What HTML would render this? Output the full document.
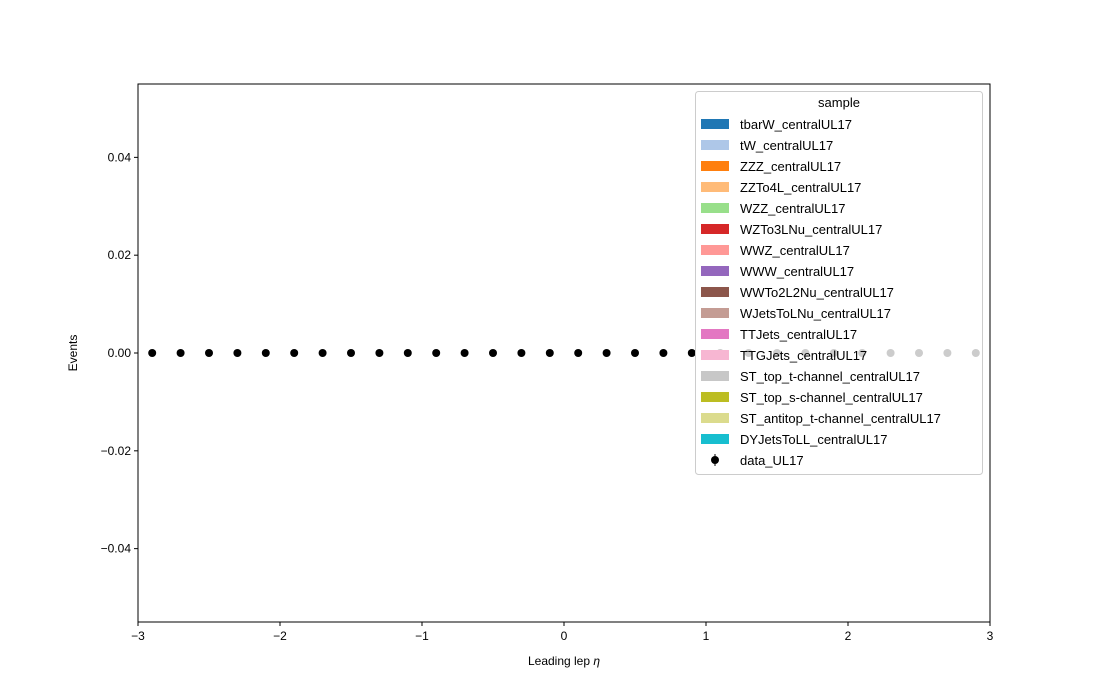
<!DOCTYPE html>
<html><head><meta charset="utf-8"><style>body{margin:0;background:#fff}svg{display:block;font-family:"Liberation Sans","DejaVu Sans",sans-serif}</style></head>
<body>
<svg id="chart" width="1100" height="700" xmlns="http://www.w3.org/2000/svg">
<g id="axes"></g>
<g id="points"></g>
<g id="legend"></g>
</svg>
<script>
const xCenters = [-2.9,-2.7,-2.5,-2.3,-2.1,-1.9,-1.7,-1.5,-1.3,-1.1,-0.9,-0.7,-0.5,-0.3,-0.1,0.1,0.3,0.5,0.7,0.9,1.1,1.3,1.5,1.7,1.9,2.1,2.3,2.5,2.7,2.9];
const dataValues = [0,0,0,0,0,0,0,0,0,0,0,0,0,0,0,0,0,0,0,0,0,0,0,0,0,0,0,0,0,0];
const xTicks = [-3,-2,-1,0,1,2,3];
const xTickLabels = ["\u22123","\u22122","\u22121","0","1","2","3"];
const yTicks = [-0.04,-0.02,0,0.02,0.04];
const yTickLabels = ["\u22120.04","\u22120.02","0.00","0.02","0.04"];
const sampleNames = ["tbarW_centralUL17","tW_centralUL17","ZZZ_centralUL17","ZZTo4L_centralUL17","WZZ_centralUL17","WZTo3LNu_centralUL17","WWZ_centralUL17","WWW_centralUL17","WWTo2L2Nu_centralUL17","WJetsToLNu_centralUL17","TTJets_centralUL17","TTGJets_centralUL17","ST_top_t-channel_centralUL17","ST_top_s-channel_centralUL17","ST_antitop_t-channel_centralUL17","DYJetsToLL_centralUL17"];
const sampleColors = ["#1f77b4","#aec7e8","#ff7f0e","#ffbb78","#98df8a","#d62728","#ff9896","#9467bd","#8c564b","#c49c94","#e377c2","#f7b6d2","#c7c7c7","#bcbd22","#dbdb8d","#17becf"];

const NS="http://www.w3.org/2000/svg";
const L=138,R=990,T=84,B=622;
const xMin=-3,xMax=3,yMin=-0.055,yMax=0.055;
const sx=v=>L+(v-xMin)/(xMax-xMin)*(R-L);
const sy=v=>B-(v-yMin)/(yMax-yMin)*(B-T);
function mk(tag,attrs,parent,text){const e=document.createElementNS(NS,tag);for(const k in attrs)e.setAttribute(k,attrs[k]);if(text!==undefined)e.textContent=text;parent.appendChild(e);return e;}
const axes=document.getElementById('axes');
let f=mk('rect',{x:L,y:T,width:R-L,height:B-T,fill:'none',stroke:'#000','stroke-width':1},axes);


xTicks.forEach((v,i)=>{
  let t=mk('line',{x1:sx(v),x2:sx(v),y1:B,y2:B+4,stroke:'#000'},axes);
  
  
  let l=mk('text',{x:sx(v),y:B+18,'text-anchor':'middle','font-size':12},axes,xTickLabels[i]);
  
  
});
yTicks.forEach((v,i)=>{
  let t=mk('line',{x1:L-4,x2:L,y1:sy(v),y2:sy(v),stroke:'#000'},axes);
  
  
  let l=mk('text',{x:L-7,y:sy(v)+4,'text-anchor':'end','font-size':12},axes,yTickLabels[i]);
  
  
});
let xt=mk('text',{x:(L+R)/2,y:665,'text-anchor':'middle','font-size':12},axes);


xt.appendChild(document.createTextNode('Leading lep '));
mk('tspan',{'font-style':'italic'},xt,'η');
let yt=mk('text',{x:77,y:(T+B)/2,'text-anchor':'middle','font-size':12,transform:`rotate(-90 77 ${(T+B)/2})`},axes,'Events');



const pts=document.getElementById('points');
xCenters.forEach((x,i)=>{
  let c=mk('circle',{cx:sx(x),cy:sy(dataValues[i]),r:4,fill:'#000'},pts);
  
  
});

const lg=document.getElementById('legend');
let box=mk('rect',{x:695.5,y:91.5,width:287,height:383,rx:3,fill:'#fff','fill-opacity':0.8,stroke:'#ccc'},lg);


let title=mk('text',{x:839,y:107,'text-anchor':'middle','font-size':13},lg,'sample');


sampleNames.forEach((n,i)=>{
  const y=124+i*21;
  let g=mk('g',{},lg);
  
  
  mk('rect',{x:701,y:y-5,width:28,height:10,fill:sampleColors[i]},g);
  mk('text',{x:740,y:y+5,'font-size':13},g,n);
});
const dy=124+16*21;
let dg=mk('g',{},lg);


mk('line',{x1:715,x2:715,y1:dy-6,y2:dy+6,stroke:'#000'},dg);
mk('circle',{cx:715,cy:dy,r:4,fill:'#000'},dg);
mk('text',{x:740,y:dy+5,'font-size':13},dg,'data_UL17');
</script>
</body></html>
